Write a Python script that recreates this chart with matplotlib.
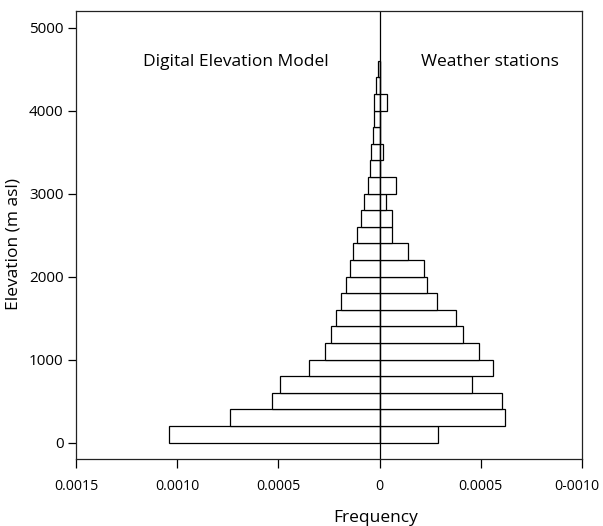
import matplotlib
matplotlib.use('Agg')
import matplotlib.pyplot as plt
import matplotlib.transforms as mtransforms
import numpy as np

plt.rcParams['font.family'] = ['Open Sans', 'DejaVu Sans']

# Elevation bins (lower edge, m asl), 200 m wide
bin_edges = [0, 200, 400, 600, 800, 1000, 1200, 1400, 1600, 1800, 2000,
             2200, 2400, 2600, 2800, 3000, 3200, 3400, 3600, 3800, 4000,
             4200, 4400]
bin_width = 200

# Frequency densities
dem_freq = [0.00104, 0.00074, 0.00053, 0.00049, 0.00035, 0.00027, 0.00024,
            0.000214, 0.00019, 0.000168, 0.000148, 0.000132, 0.000113,
            0.000093, 0.000075, 0.000059, 0.000047, 0.000043, 0.000032,
            0.000028, 0.000025, 0.000017, 0.000007]
station_freq = [0.000287, 0.00062, 0.000604, 0.000459, 0.000559, 0.000494,
                0.000413, 0.00038, 0.000285, 0.000237, 0.00022, 0.000142,
                0.00006, 0.00006, 0.000032, 0.00008, 0.0, 0.000019, 0.0,
                0.0, 0.000036, 0.0, 0.0]

x_ticks = [-0.0015, -0.0010, -0.0005, 0, 0.0005, 0.0010]
x_tick_labels = ['0.0015', '0.0010', '0.0005', '0', '0.0005', '0-0010']
y_ticks = [0, 1000, 2000, 3000, 4000, 5000]

fig = plt.figure(figsize=(6.03, 5.26), dpi=100)
ax = fig.add_axes([0.126, 0.127, 0.839, 0.852])

bar_style = dict(height=bin_width, align='edge', color='white',
                 edgecolor='black', linewidth=0.9)
ax.barh(bin_edges, [-v for v in dem_freq], **bar_style)
ax.barh(bin_edges, station_freq, **bar_style)
ax.axvline(0, color='black', linewidth=0.9)

ax.set_xlim(-0.0015, 0.0010)
ax.set_ylim(-200, 5200)
ax.set_xticks(x_ticks)
ax.set_xticklabels(x_tick_labels)
ax.set_yticks(y_ticks)
ax.tick_params(axis='both', width=0.9, direction='out')
ax.tick_params(axis='x', labelsize=10.2, length=6.5, pad=8)
ax.tick_params(axis='y', labelsize=11, length=6, pad=3)
for s in ax.spines.values():
    s.set_linewidth(0.9)
    s.set_color('#222222')

# nudge the last x label a little left so it stays inside the figure
last = ax.get_xticklabels()[-1]
last.set_transform(last.get_transform() +
                   mtransforms.ScaledTranslation(-4 / 72, 0, fig.dpi_scale_trans))

ax.text(-0.00071, 4590, 'Digital Elevation Model', ha='center', va='center', fontsize=12.5)
ax.text(0.000545, 4590, 'Weather stations', ha='center', va='center', fontsize=12.5)

fig.text(0.0216, 0.537, 'Elevation (m asl)', rotation=90, ha='center', va='center', fontsize=12.5)
fig.text(0.6235, 0.0152, 'Frequency', ha='center', va='center', fontsize=12.5)

fig.savefig('out.png', dpi=100)
